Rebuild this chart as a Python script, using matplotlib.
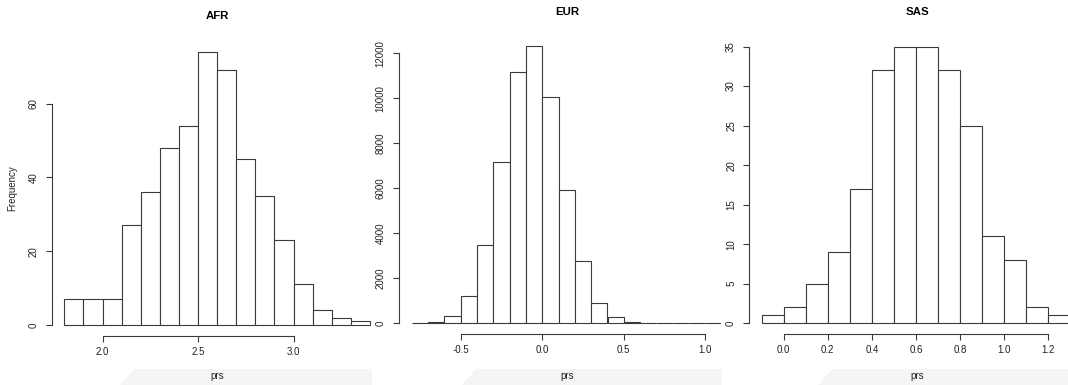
import matplotlib
matplotlib.use("Agg")
import matplotlib.pyplot as plt
from matplotlib.patches import Polygon

plt.rcParams['font.family'] = ['Liberation Sans', 'DejaVu Sans']

W, H = 1068, 385

# histogram data (bin width 0.1)
afr_bins = [1.8, 1.9, 2.0, 2.1, 2.2, 2.3, 2.4, 2.5, 2.6, 2.7, 2.8, 2.9, 3.0, 3.1, 3.2, 3.3]
afr_counts = [7, 7, 7, 27, 36, 48, 54, 74, 69, 45, 35, 23, 11, 4, 2, 1]

eur_bins = [-0.8, -0.7, -0.6, -0.5, -0.4, -0.3, -0.2, -0.1, 0.0, 0.1,
            0.2, 0.3, 0.4, 0.5, 0.6, 0.7, 0.8, 0.9, 1.0]
eur_counts = [10, 50, 310, 1200, 3500, 7150, 11180, 12320, 10040, 5940,
              2780, 890, 265, 70, 25, 8, 3, 1, 1]

sas_bins = [-0.1, 0.0, 0.1, 0.2, 0.3, 0.4, 0.5, 0.6, 0.7, 0.8, 0.9, 1.0, 1.1, 1.2]
sas_counts = [1, 2, 5, 9, 17, 32, 35, 35, 32, 25, 11, 8, 2, 1]

afr_xticks = [2.0, 2.5, 3.0]
afr_xlabels = ['2.0', '2.5', '3.0']
afr_yticks = [0, 20, 40, 60]
eur_xticks = [-0.5, 0.0, 0.5, 1.0]
eur_xlabels = ['-0.5', '0.0', '0.5', '1.0']
eur_yticks = [0, 2000, 4000, 6000, 8000, 10000, 12000]
sas_xticks = [0.0, 0.2, 0.4, 0.6, 0.8, 1.0, 1.2]
sas_xlabels = ['0.0', '0.2', '0.4', '0.6', '0.8', '1.0', '1.2']
sas_yticks = [0, 5, 10, 15, 20, 25, 30, 35]

LINE = '#3a3a3a'

fig = plt.figure(figsize=(W / 100, H / 100), dpi=100)


def fx(px):
    return px / W


def fy(py):
    return 1 - py / H


def panel(name, bins, counts, xt, xl, yt, left_px, right_px, ref_px, ref_val,
          xscale, base_px, yscale, title_x, title_y, band_x, band_right):
    bottom_px = base_px + 11
    top_px = 30
    ax = fig.add_axes([fx(left_px), fy(bottom_px),
                       (right_px - left_px) / W, (bottom_px - top_px) / H])
    ax.bar(bins, counts, width=0.1, align='edge', color='white',
           edgecolor=LINE, linewidth=0.8)
    ax.set_xlim(ref_val + (left_px - ref_px) / xscale,
                ref_val + (right_px - ref_px) / xscale)
    ax.set_ylim(-11 / yscale, (base_px - top_px) / yscale)
    ax.set_xticks(xt, xl)
    ax.set_yticks(yt, [str(v) for v in yt], rotation=90, va='center')
    for s in ['top', 'right']:
        ax.spines[s].set_visible(False)
    ax.spines['left'].set_bounds(yt[0], yt[-1])
    ax.spines['bottom'].set_bounds(xt[0], xt[-1])
    for s in ['left', 'bottom']:
        ax.spines[s].set_color(LINE)
        ax.spines[s].set_linewidth(0.8)
    ax.tick_params(length=4.5, width=0.8, color=LINE, labelsize=7,
                   labelcolor='#222222')
    ax.tick_params(axis='y', pad=5)
    ax.tick_params(axis='x', pad=3.5)
    ax.patch.set_alpha(0)

    fig.text(fx(title_x), fy(title_y), name, fontsize=8.2, fontweight='bold',
             ha='center', va='center')
    band = Polygon([(fx(band_x), fy(385)), (fx(band_x + 14), fy(369)),
                    (fx(band_right), fy(369)), (fx(band_right), fy(385))],
                   closed=True, transform=fig.transFigure, facecolor='#f5f5f5',
                   edgecolor='none', zorder=0)
    fig.add_artist(band)
    fig.text(fx(title_x), fy(376), 'prs', fontsize=7, ha='center', va='center',
             color='#222222')
    return ax


panel('AFR', afr_bins, afr_counts, afr_xticks, afr_xlabels, afr_yticks,
      52, 372, 198, 2.5, 191.0, 325, 3.69, 217, 16, 120, 372)
panel('EUR', eur_bins, eur_counts, eur_xticks, eur_xlabels, eur_yticks,
      399, 721, 542.3, 0.0, 163.0, 323.3, 0.0225, 567, 12, 462, 722)
panel('SAS', sas_bins, sas_counts, sas_xticks, sas_xlabels, sas_yticks,
      749.3, 1068, 783.7, 0.0, 220.5, 323.3, 7.906, 917, 12, 818, 1068)

fig.text(fx(12), fy(188), 'Frequency', rotation=90, fontsize=7,
         ha='center', va='center', color='#222222')

fig.savefig('out.png', dpi=100)
